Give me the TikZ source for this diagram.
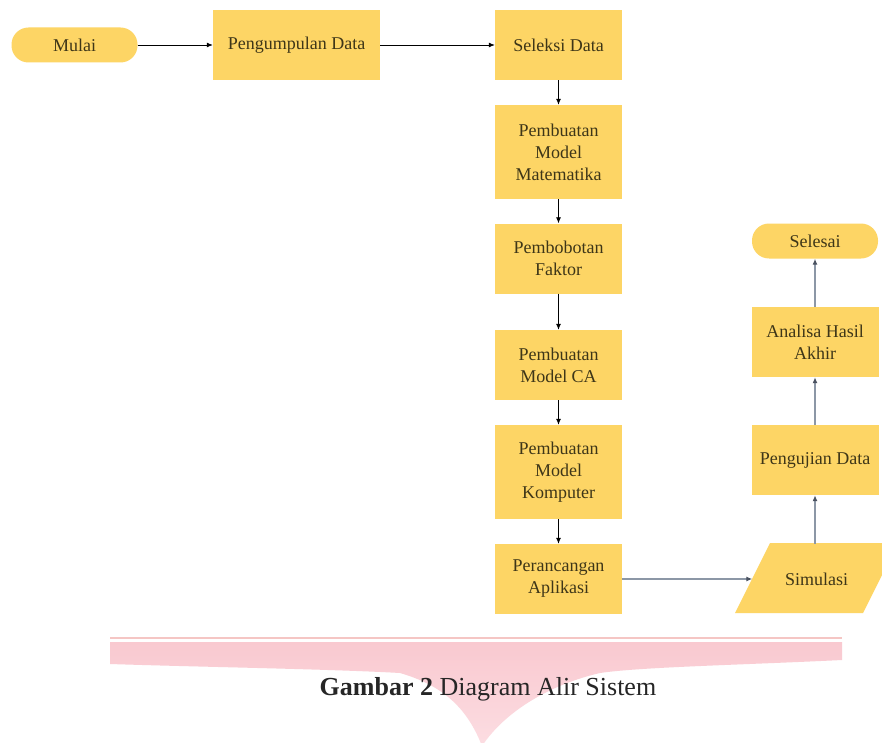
\documentclass[tikz,border=0pt]{standalone}
\usepackage{fontspec}
\setmainfont{Liberation Serif}
\usetikzlibrary{arrows.meta,shapes.geometric}
\definecolor{boxy}{HTML}{FDD565}
\definecolor{boxtxt}{HTML}{3E3618}
\definecolor{pinkb}{HTML}{F9C9D0}
\definecolor{pinkc}{HTML}{FCDDE2}
\definecolor{pinkl}{HTML}{F5C6C4}
\definecolor{grayarr}{HTML}{8C97A6}
\definecolor{grayhead}{HTML}{4A5260}
\begin{document}
\begin{tikzpicture}[x=1pt,y=-1pt,
  box/.style={fill=boxy, draw=none, minimum width=127pt, minimum height=70pt,
    inner sep=2pt, align=center, text=boxtxt, font=\fontsize{18}{22}\selectfont},
  term/.style={box, rounded corners=17pt, minimum height=35pt, minimum width=126pt},
  blackarr/.style={draw=black, line width=0.8pt, -{Latex[length=6pt,width=5pt]}},
  grayarrow/.style={draw=grayarr, line width=1.3pt, -{Latex[length=6pt,width=5pt,fill=grayhead,color=grayhead]}}
]
\useasboundingbox[fill=white] (0,0) rectangle (882,743);
% pink banner
\shade[top color=pinkb, bottom color=pinkc]
  (110,642) -- (842,642) -- (842,660)
  .. controls (740,665) and (640,667) .. (600,673)
  .. controls (552,684) and (506,710) .. (482,746)
  .. controls (468,710) and (445,686) .. (400,673)
  .. controls (330,669) and (200,667) .. (110,664) -- cycle;
\draw[pinkl, line width=1.5pt] (110,638) -- (842,638);
% Simulasi shape
\fill[boxy] (770,543) -- (898,543) -- (863,613) -- (735,613) -- cycle;
% nodes
\node[term] (mulai) at (74.5,45) {Mulai};
\node[box, minimum width=167pt] (peng) at (296.5,45) {Pengumpulan Data};
\node[box] (sel) at (558.5,45) {Seleksi Data};
\node[box, minimum height=94pt] (mat) at (558.5,152) {Pembuatan\\Model\\Matematika};
\node[box] (bob) at (558.5,258.5) {Pembobotan\\Faktor};
\node[box] (ca) at (558.5,365) {Pembuatan\\Model CA};
\node[box, minimum height=94pt] (komp) at (558.5,472) {Pembuatan\\Model\\Komputer};
\node[box] (pera) at (558.5,579) {Perancangan\\Aplikasi};
\node[box, fill=none, minimum width=128pt] (sim) at (816.5,579) {Simulasi};
\node[box] (uji) at (815,460) {Pengujian Data};
\node[box] (ana) at (815,342) {Analisa Hasil\\Akhir};
\node[term] (selesai) at (815,241) {Selesai};
% connectors
\draw[blackarr] (mulai) -- (peng);
\draw[blackarr] (peng) -- (sel);
\draw[blackarr] (sel) -- (mat);
\draw[blackarr] (mat) -- (bob);
\draw[blackarr] (bob) -- (ca);
\draw[blackarr] (ca) -- (komp);
\draw[blackarr] (komp) -- (pera);
\draw[grayarrow] (pera) -- (sim);
\draw[grayarrow] (sim.north -| uji) -- (uji);
\draw[grayarrow] (uji) -- (ana);
\draw[grayarrow] (ana) -- (selesai);
% caption
\node[font=\fontsize{26}{30}\selectfont, text=black!85] (cap) at (488,689) {\textbf{Gambar 2} Diagram Alir Sistem};
\end{tikzpicture}
\end{document}
